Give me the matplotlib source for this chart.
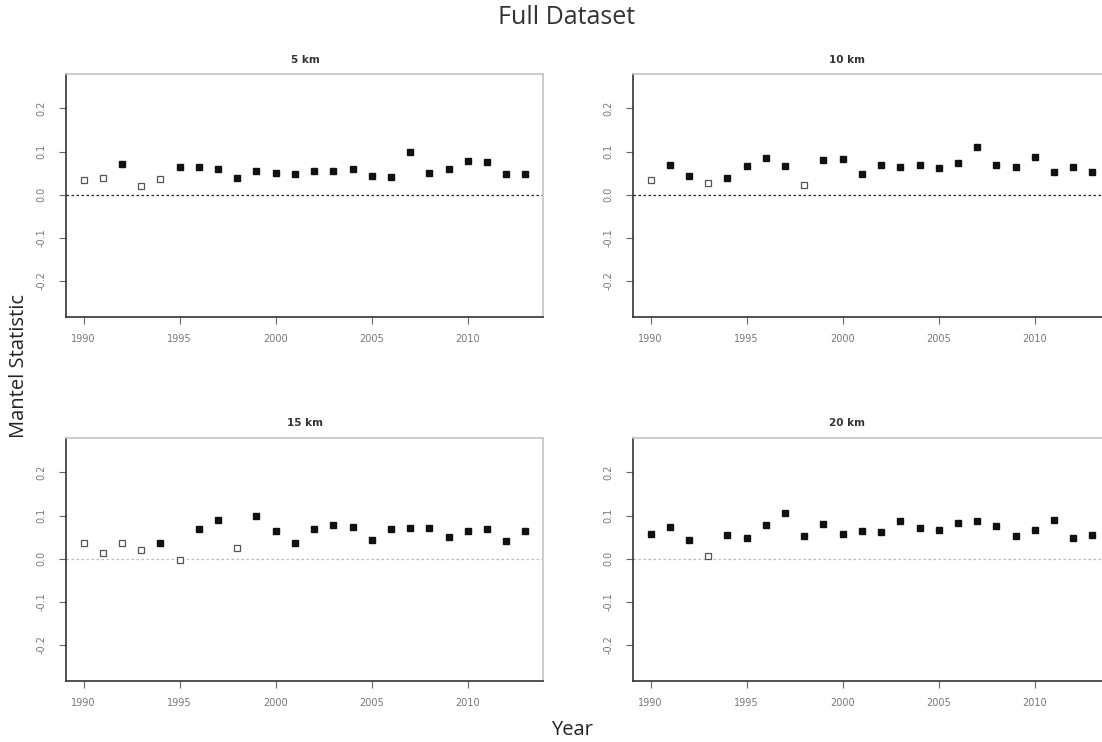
import matplotlib
matplotlib.use("Agg")
import matplotlib.pyplot as plt

# --------- data ---------
years = list(range(1990, 2014))

mantel_5km = [0.033, 0.038, 0.070, 0.020, 0.037, 0.064, 0.063, 0.060, 0.038, 0.054,
              0.050, 0.049, 0.054, 0.054, 0.060, 0.043, 0.040, 0.098, 0.051, 0.060,
              0.078, 0.076, 0.047, 0.049]
signif_5km = [0, 0, 1, 0, 0, 1, 1, 1, 1, 1, 1, 1, 1, 1, 1, 1, 1, 1, 1, 1, 1, 1, 1, 1]

mantel_10km = [0.035, 0.068, 0.044, 0.026, 0.039, 0.067, 0.086, 0.067, 0.023, 0.080,
               0.083, 0.047, 0.069, 0.065, 0.069, 0.062, 0.074, 0.110, 0.069, 0.065,
               0.087, 0.053, 0.064, 0.053]
signif_10km = [0, 1, 1, 0, 1, 1, 1, 1, 0, 1, 1, 1, 1, 1, 1, 1, 1, 1, 1, 1, 1, 1, 1, 1]

mantel_15km = [0.037, 0.013, 0.036, 0.020, 0.036, -0.003, 0.069, 0.090, 0.025, 0.099,
               0.065, 0.036, 0.068, 0.078, 0.074, 0.043, 0.068, 0.072, 0.072, 0.051,
               0.063, 0.068, 0.042, 0.063]
signif_15km = [0, 0, 0, 0, 1, 0, 1, 1, 0, 1, 1, 1, 1, 1, 1, 1, 1, 1, 1, 1, 1, 1, 1, 1]

mantel_20km = [0.057, 0.073, 0.043, 0.007, 0.056, 0.049, 0.078, 0.106, 0.052, 0.081,
               0.057, 0.063, 0.061, 0.087, 0.070, 0.067, 0.083, 0.088, 0.076, 0.052,
               0.067, 0.090, 0.047, 0.056]
signif_20km = [1, 1, 1, 0, 1, 1, 1, 1, 1, 1, 1, 1, 1, 1, 1, 1, 1, 1, 1, 1, 1, 1, 1, 1]

titles = ["5 km", "10 km", "15 km", "20 km"]
xticks = [1990, 1995, 2000, 2005, 2010]
yticks = [-0.2, -0.1, 0.0, 0.1, 0.2]
ytick_labels = ["-0.2", "-0.1", "0.0", "0.1", "0.2"]

panels = [
    (mantel_5km, signif_5km),
    (mantel_10km, signif_10km),
    (mantel_15km, signif_15km),
    (mantel_20km, signif_20km),
]

# --------- figure ---------
W, H = 1102, 742
fig = plt.figure(figsize=(W / 100, H / 100), dpi=100)
fig.patch.set_facecolor("white")

# axes boxes in pixels: left, top (width / height shared)
boxes = [(66, 74), (633, 74), (66, 438), (633, 438)]
bw, bh = 477, 243
zero_colors = ["#222222", "#222222", "#bbbbbb", "#bbbbbb"]

for i, ((vals, sig), (px, py)) in enumerate(zip(panels, boxes)):
    ax = fig.add_axes([px / W, (H - py - bh) / H, bw / W, bh / H])
    ax.axhline(0, color=zero_colors[i], linestyle=(0, (2, 2)), linewidth=0.9, zorder=1)

    yf = [y for y, s in zip(years, sig) if s]
    vf = [v for v, s in zip(vals, sig) if s]
    yo = [y for y, s in zip(years, sig) if not s]
    vo = [v for v, s in zip(vals, sig) if not s]
    ax.plot(yf, vf, linestyle="none", marker="s", markersize=4.8,
            color="#111111", zorder=3)
    ax.plot(yo, vo, linestyle="none", marker="s", markersize=3.8,
            markerfacecolor="white", markeredgecolor="#555555",
            markeredgewidth=0.9, zorder=3)

    ax.set_xlim(1990 - 0.92, 2013 + 0.92)
    ax.set_ylim(-0.284, 0.28)
    ax.set_xticks(xticks)
    ax.set_xticklabels([str(x) for x in xticks])
    ax.set_yticks(yticks)
    ax.set_yticklabels(ytick_labels, rotation=90, va="center")
    ax.tick_params(axis="both", direction="out", length=5, width=0.8,
                   colors="#666666", labelsize=7, labelcolor="#777777", pad=7)
    ax.tick_params(axis="y", pad=9)

    for side in ["left", "bottom"]:
        ax.spines[side].set_color("#333333")
        ax.spines[side].set_linewidth(1.2)
    for side in ["top", "right"]:
        ax.spines[side].set_color("#c4c4c4")
        ax.spines[side].set_linewidth(1.2)

# panel titles
title_pos = [(305, 60), (847, 60), (305, 423), (847, 423)]
for t, (tx, ty) in zip(titles, title_pos):
    fig.text(tx / W, 1 - ty / H, t, ha="center", va="center",
             fontsize=7.5, fontweight="bold", color="#333333")

fig.text(567 / W, 1 - 18 / H, "Full Dataset", ha="center", va="center",
         fontsize=18, color="#333333", family="Open Sans")
fig.text(19 / W, 1 - 366 / H, "Mantel Statistic", ha="center", va="center",
         rotation=90, fontsize=14.5, color="#222222", family="Open Sans")
fig.text(572 / W, 1 - 730 / H, "Year", ha="center", va="center",
         fontsize=14.5, color="#222222", family="Open Sans")

fig.savefig("out.png", dpi=100)
